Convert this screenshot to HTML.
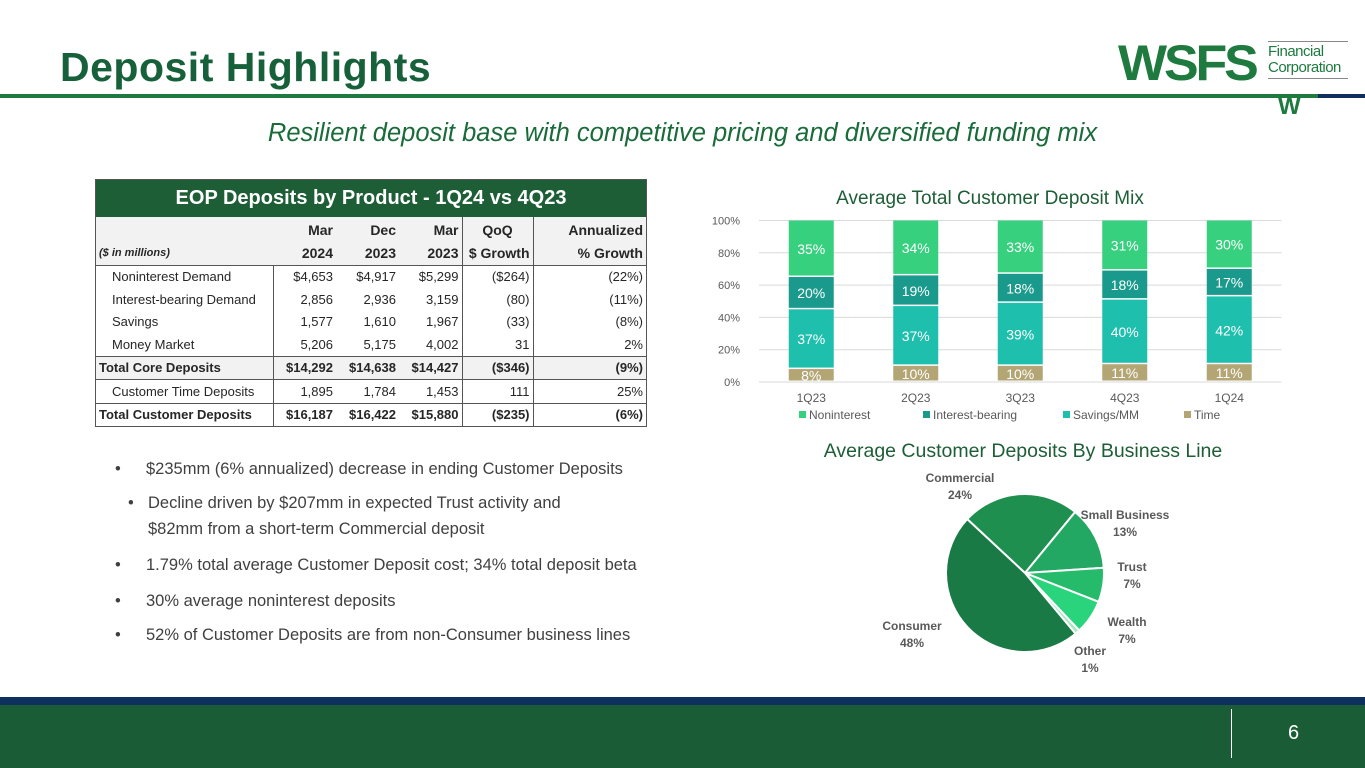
<!DOCTYPE html>
<html><head><meta charset="utf-8"><style>
body{margin:0;width:1365px;height:768px;position:relative;background:#fff;font-family:"Liberation Sans",sans-serif;overflow:hidden}
.abs{position:absolute}
table{border-collapse:collapse;font-size:13px;color:#262626}
td{padding:0 3px;height:22.5px;text-align:right;white-space:nowrap}
.bul{position:absolute;font-size:16.5px;color:#404040;line-height:26px}
.bul span{position:absolute;left:0}
</style></head><body>
<div class="abs" style="left:60px;top:44px;font-size:41px;font-weight:bold;color:#17613a;letter-spacing:0.5px">Deposit Highlights</div>
<div class="abs" style="left:0;top:94px;width:1318px;height:4px;background:#1e7a3e"></div>
<div class="abs" style="left:1318px;top:94px;width:47px;height:4px;background:#0f2f5e"></div>
<div class="abs" style="left:1118px;top:38px;width:240px;height:80px">
  <div class="abs" style="left:0;top:-2px;font-size:50px;font-weight:900;color:#1e7a3e;letter-spacing:-3px;line-height:54px;transform:scaleX(1.04);transform-origin:left">WSFS</div>
  <div class="abs" style="left:150px;top:3px;width:80px;border-top:1px solid #888;border-bottom:1px solid #888;font-size:15px;color:#1e7a3e;line-height:16px;padding:2px 0;letter-spacing:-0.5px">Financial<br>Corporation</div>
  <div class="abs" style="left:160px;top:55px;font-size:24px;font-weight:900;color:#1e7a3e">W</div>
</div>
<div class="abs" style="left:0;width:1365px;top:119px;text-align:center;font-size:25.5px;font-style:italic;color:#1a6b3a">Resilient deposit base with competitive pricing and diversified funding mix</div>

<div class="abs" style="left:95px;top:179px;width:550px;border:1px solid #555">
  <div style="height:37px;background:#1d5e36;color:#fff;font-size:20px;font-weight:bold;text-align:center;line-height:37px">EOP Deposits by Product - 1Q24 vs 4Q23</div>
  <table style="width:550px">
    <colgroup><col style="width:177px"><col style="width:63px"><col style="width:63px"><col style="width:63px"><col style="width:71px"><col style="width:113px"></colgroup>
    <tr style="background:#f2f2f2;font-weight:bold;font-size:14px;height:25px"><td></td><td style="text-align:right">Mar</td><td>Dec</td><td>Mar</td><td style="border-left:1px solid #555;text-align:center">QoQ</td><td style="border-left:1px solid #555;text-align:right">Annualized</td></tr>
    <tr style="background:#f2f2f2;font-weight:bold;font-size:14px;border-bottom:1px solid #555"><td style="text-align:left;font-size:11px;font-style:italic">($ in millions)</td><td>2024</td><td>2023</td><td>2023</td><td style="border-left:1px solid #555">$ Growth</td><td style="border-left:1px solid #555">% Growth</td></tr>
    <tr><td style="text-align:left;padding-left:16px">Noninterest Demand</td><td style="border-left:1px solid #555">$4,653</td><td>$4,917</td><td>$5,299</td><td style="border-left:1px solid #555">($264)</td><td style="border-left:1px solid #555">(22%)</td></tr>
    <tr><td style="text-align:left;padding-left:16px">Interest-bearing Demand</td><td style="border-left:1px solid #555">2,856</td><td>2,936</td><td>3,159</td><td style="border-left:1px solid #555">(80)</td><td style="border-left:1px solid #555">(11%)</td></tr>
    <tr><td style="text-align:left;padding-left:16px">Savings</td><td style="border-left:1px solid #555">1,577</td><td>1,610</td><td>1,967</td><td style="border-left:1px solid #555">(33)</td><td style="border-left:1px solid #555">(8%)</td></tr>
    <tr><td style="text-align:left;padding-left:16px">Money Market</td><td style="border-left:1px solid #555">5,206</td><td>5,175</td><td>4,002</td><td style="border-left:1px solid #555">31</td><td style="border-left:1px solid #555">2%</td></tr>
    <tr style="background:#f2f2f2;font-weight:bold;border-top:1px solid #555;border-bottom:1px solid #555"><td style="text-align:left">Total Core Deposits</td><td style="border-left:1px solid #555">$14,292</td><td>$14,638</td><td>$14,427</td><td style="border-left:1px solid #555">($346)</td><td style="border-left:1px solid #555">(9%)</td></tr>
    <tr><td style="text-align:left;padding-left:16px">Customer Time Deposits</td><td style="border-left:1px solid #555">1,895</td><td>1,784</td><td>1,453</td><td style="border-left:1px solid #555">111</td><td style="border-left:1px solid #555">25%</td></tr>
    <tr style="font-weight:bold;border-top:1px solid #555"><td style="text-align:left">Total Customer Deposits</td><td style="border-left:1px solid #555">$16,187</td><td>$16,422</td><td>$15,880</td><td style="border-left:1px solid #555">($235)</td><td style="border-left:1px solid #555">(6%)</td></tr>
  </table>
</div>

<div class="bul" style="left:115px;top:456px;padding-left:31px"><span>•</span>$235mm (6% annualized) decrease in ending Customer Deposits</div>
<div class="bul" style="left:128px;top:490px;padding-left:20px"><span>•</span>Decline driven by $207mm in expected Trust activity and<br>$82mm from a short-term Commercial deposit</div>
<div class="bul" style="left:115px;top:552px;padding-left:31px"><span>•</span>1.79% total average Customer Deposit cost; 34% total deposit beta</div>
<div class="bul" style="left:115px;top:588px;padding-left:31px"><span>•</span>30% average noninterest deposits</div>
<div class="bul" style="left:115px;top:622px;padding-left:31px"><span>•</span>52% of Customer Deposits are from non-Consumer business lines</div>

<svg class="abs" style="left:0;top:0" width="1365" height="700" id="charts"></svg>

<div class="abs" style="left:0;top:697px;width:1365px;height:8px;background:#0f2f5e"></div>
<div class="abs" style="left:0;top:705px;width:1365px;height:63px;background:#1a5c35"></div>
<div class="abs" style="left:1231px;top:709px;width:1px;height:49px;background:#fff"></div>
<div class="abs" style="left:1288px;top:722px;font-size:20px;color:#fff">6</div>

<script>
const quarters=["1Q23","2Q23","3Q23","4Q23","1Q24"];
const timeVals=[8,10,10,11,11];
const savingsVals=[37,37,39,40,42];
const interestVals=[20,19,18,18,17];
const nonintVals=[35,34,33,31,30];
const yTicks=[0,20,40,60,80,100];
const pieLabels=["Commercial","Small Business","Trust","Wealth","Other","Consumer"];
const pieVals=[24,13,7,7,1,48];

const NS="http://www.w3.org/2000/svg";
const svg=document.getElementById('charts');
function mk(t,a,txt){const e=document.createElementNS(NS,t);for(const k in a)e.setAttribute(k,a[k]);if(txt!==undefined)e.textContent=txt;svg.appendChild(e);return e;}
const x0=759,bw=104.5,barW=45,yB=382,yT=220.5;
const y=v=>yB-(v/100)*(yB-yT);
const xc=i=>x0+bw*(i+0.5);
let t=mk('text',{x:990,y:204,'text-anchor':'middle','font-size':19,fill:'#1d5e36'},'Average Total Customer Deposit Mix');

yTicks.forEach(v=>{
  let l=mk('line',{x1:x0,x2:x0+bw*5,y1:y(v),y2:y(v),stroke:'#d9d9d9','stroke-width':1});
  
  let tx=mk('text',{x:740,y:y(v)+4,'text-anchor':'end','font-size':11,fill:'#595959'},v+'%');
  
});
const series=[[timeVals,'#b3a574','time'],[savingsVals,'#1fbfae','savings'],[interestVals,'#1a9a8c','interest'],[nonintVals,'#36d07e','noninterest']];
quarters.forEach((q,i)=>{
  let cum=0;
  series.forEach(([vals,col,nm])=>{
    const v=vals[i];const top=y(cum+v),bot=y(cum);
    let r=mk('rect',{x:xc(i)-barW/2,y:top,width:barW,height:bot-top-1.5,fill:col});
    
    let lb=mk('text',{x:xc(i),y:(top+bot)/2+5,'text-anchor':'middle','font-size':14,fill:'#fff'},v+'%');
    
    cum+=v;
  });
  let xl=mk('text',{x:xc(i),y:402,'text-anchor':'middle','font-size':12,fill:'#595959'},q);
  
});
[["Noninterest",'#36d07e',803],["Interest-bearing",'#1a9a8c',927],["Savings/MM",'#1fbfae',1067],["Time",'#b3a574',1188]].forEach(([n,c,lx])=>{
  let r=mk('rect',{x:lx-4,y:411,width:7,height:7,fill:c});
  
  let tx=mk('text',{x:lx+6,y:419,'font-size':12,fill:'#595959'},n);
  
});
let pt=mk('text',{x:1023,y:457,'text-anchor':'middle','font-size':19.5,fill:'#1d5e36'},'Average Customer Deposits By Business Line');

const cx=1025,cy=573,R=79;
const pieCols=['#1e8f4e','#22a862','#25bb6a','#2ad47c','#a8e6c0','#1a7a45'];
const labPos=[[960,482],[1125,519],[1132,571],[1127,626],[1090,655],[912,630]];
const tot=pieVals.reduce((a,b)=>a+b,0);
let ang=-47*Math.PI/180;
pieVals.forEach((v,i)=>{
  const a2=ang+v/tot*2*Math.PI;
  const p=a=>[cx+R*Math.sin(a),cy-R*Math.cos(a)];
  const [x1,y1]=p(ang),[x2,y2]=p(a2);
  const large=(a2-ang)>Math.PI?1:0;
  let s=mk('path',{d:`M${cx},${cy}L${x1},${y1}A${R},${R} 0 ${large} 1 ${x2},${y2}Z`,fill:pieCols[i],stroke:'#fff','stroke-width':2});
  
  const [lx,ly]=labPos[i];
  let l1=mk('text',{x:lx,y:ly,'text-anchor':'middle','font-size':12,'font-weight':'bold',fill:'#595959'},pieLabels[i]);
  
  let l2=mk('text',{x:lx,y:ly+17,'text-anchor':'middle','font-size':12,'font-weight':'bold',fill:'#595959'},v+'%');
  
  ang=a2;
});
</script>
</body></html>
